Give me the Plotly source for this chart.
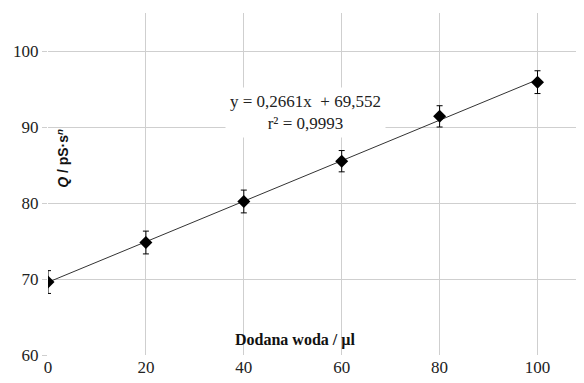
import numpy as np
import plotly.graph_objects as go

water_ul = [0, 20, 40, 60, 80, 100]
q_values = [69.6, 74.8, 80.2, 85.5, 91.4, 95.9]
q_errors = [1.5, 1.5, 1.5, 1.4, 1.4, 1.5]
x_ticks = [0, 20, 40, 60, 80, 100]
y_ticks = [60, 70, 80, 90, 100]
eq_text = "y = 0,2661x  + 69,552<br>r² = 0,9993"

slope, intercept = np.polyfit(water_ul, q_values, 1)
fit_x = [min(water_ul), max(water_ul)]
fit_y = [slope * v + intercept for v in fit_x]

fig = go.Figure()
fig.add_trace(go.Scatter(x=fit_x, y=fit_y, mode="lines",
                         line=dict(color="#333333", width=1), showlegend=False, hoverinfo="skip"))
fig.add_trace(go.Scatter(x=water_ul, y=q_values, mode="markers",
                         marker=dict(symbol="diamond", size=10, color="black"),
                         error_y=dict(type="data", array=q_errors, color="black", thickness=1, width=3),
                         showlegend=False))

serif = "Liberation Serif"
sans = "Liberation Sans"
fig.add_annotation(x=52.6, y=91.9, xref="x", yref="y", text=eq_text, showarrow=False,
                   font=dict(family=serif, size=17, color="#222222"),
                   bgcolor="white", borderpad=4, align="center")
fig.add_annotation(x=3.0, y=85.9, xref="x", yref="y",
                   text="<b><i>Q</i> / pS·s<sup><i>n</i></sup></b>", textangle=-90,
                   showarrow=False, font=dict(family=sans, size=14, color="#111111"))
fig.add_annotation(x=50.5, y=62.0, xref="x", yref="y", text="<b>Dodana woda / µl</b>",
                   showarrow=False, font=dict(family=serif, size=16, color="#111111"))

fig.update_layout(
    width=584, height=383,
    margin=dict(l=40, r=8, t=5, b=36, autoexpand=False),
    plot_bgcolor="white", paper_bgcolor="white",
    font=dict(family=serif, size=17, color="#222222"),
)
fig.update_xaxes(range=[0, 109.5], tickvals=x_ticks, showgrid=True, gridcolor="#cfcfcf",
                 zeroline=False, showline=False, ticks="", automargin=False)
fig.update_yaxes(range=[60, 105], tickvals=y_ticks, showgrid=True, gridcolor="#cfcfcf",
                 zeroline=False, showline=False, ticks="outside", ticklen=5, tickcolor="#cfcfcf",
                 automargin=False)
fig.write_html("out.html")
